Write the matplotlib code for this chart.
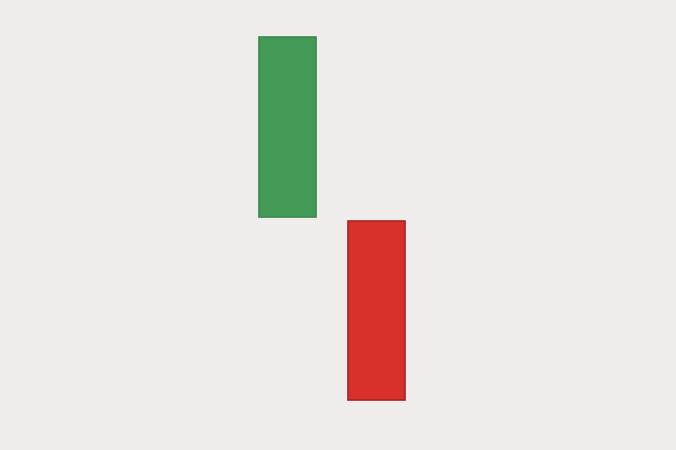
import matplotlib
matplotlib.use("Agg")
import matplotlib.pyplot as plt

# two candles, no wicks visible
candle_idx = [0, 1]
opens = [51.8, 50.9]
closes = [91.8, 11.1]
body_colors = ["#429a56", "#d8302a"]
edge_colors = ["#3a8a4c", "#a82520"]

fig = plt.figure(figsize=(6.76, 4.5), dpi=100)
fig.patch.set_facecolor("#efecec")
ax = fig.add_axes([0, 0, 1, 1])
ax.set_facecolor("#efecec")

bottoms = [min(o, c) for o, c in zip(opens, closes)]
heights = [abs(c - o) for o, c in zip(opens, closes)]
ax.bar(candle_idx, heights, bottom=bottoms, width=0.64,
       color=body_colors, edgecolor=edge_colors, linewidth=1.2)

ax.set_xlim(-3.225, 4.37)
ax.set_ylim(0, 100)
ax.axis("off")

fig.savefig("out.png", dpi=100, facecolor=fig.get_facecolor())
